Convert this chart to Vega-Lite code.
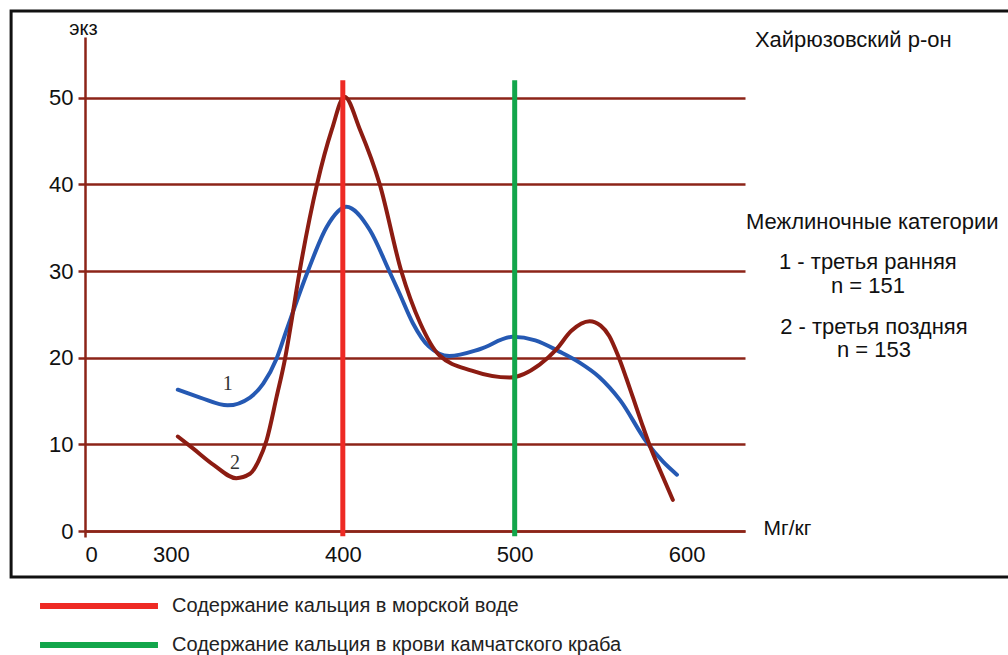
{
  "$schema": "https://vega.github.io/schema/vega-lite/v6.json",
  "width": 660,
  "height": 494,
  "autosize": {"type": "none"},
  "padding": {"left": 85, "top": 37, "right": 263, "bottom": 124},
  "background": "white",
  "config": {"font": "Liberation Sans", "view": {"stroke": null}},
  "datasets": {
    "box": [{"x": 207, "x2": 800, "y": -5.3, "y2": 60.0}],
    "curves": [
      {"s": "1", "x": 304, "y": 16.3},
      {"s": "1", "x": 317, "y": 15.4},
      {"s": "1", "x": 333, "y": 14.5},
      {"s": "1", "x": 346, "y": 15.4},
      {"s": "1", "x": 353.7, "y": 17.0},
      {"s": "1", "x": 361.5, "y": 19.9},
      {"s": "1", "x": 367.3, "y": 23.2},
      {"s": "1", "x": 379.7, "y": 30},
      {"s": "1", "x": 390.7, "y": 35.1},
      {"s": "1", "x": 402, "y": 37.4},
      {"s": "1", "x": 415.8, "y": 34.7},
      {"s": "1", "x": 427, "y": 30},
      {"s": "1", "x": 433, "y": 27.4},
      {"s": "1", "x": 440.7, "y": 24},
      {"s": "1", "x": 450, "y": 21.3},
      {"s": "1", "x": 462, "y": 20.2},
      {"s": "1", "x": 480, "y": 21},
      {"s": "1", "x": 498.8, "y": 22.4},
      {"s": "1", "x": 512, "y": 22.0},
      {"s": "1", "x": 526, "y": 20.7},
      {"s": "1", "x": 538, "y": 19.4},
      {"s": "1", "x": 549, "y": 17.8},
      {"s": "1", "x": 561.3, "y": 15.1},
      {"s": "1", "x": 577, "y": 10.2},
      {"s": "1", "x": 586.3, "y": 8.0},
      {"s": "1", "x": 594.4, "y": 6.5},
      {"s": "2", "x": 304, "y": 10.9},
      {"s": "2", "x": 313, "y": 9.5},
      {"s": "2", "x": 325, "y": 7.6},
      {"s": "2", "x": 338, "y": 6.1},
      {"s": "2", "x": 346, "y": 6.6},
      {"s": "2", "x": 351, "y": 8.1},
      {"s": "2", "x": 355.7, "y": 10.5},
      {"s": "2", "x": 361.5, "y": 15.5},
      {"s": "2", "x": 366.4, "y": 19.9},
      {"s": "2", "x": 369.3, "y": 23.2},
      {"s": "2", "x": 375, "y": 30.1},
      {"s": "2", "x": 385, "y": 40},
      {"s": "2", "x": 393.6, "y": 46.3},
      {"s": "2", "x": 401, "y": 50.1},
      {"s": "2", "x": 410, "y": 46.3},
      {"s": "2", "x": 421.5, "y": 40},
      {"s": "2", "x": 434, "y": 30},
      {"s": "2", "x": 445, "y": 24},
      {"s": "2", "x": 456, "y": 20.3},
      {"s": "2", "x": 475, "y": 18.5},
      {"s": "2", "x": 497, "y": 17.7},
      {"s": "2", "x": 514.5, "y": 19.2},
      {"s": "2", "x": 524, "y": 20.9},
      {"s": "2", "x": 533, "y": 23.1},
      {"s": "2", "x": 543.6, "y": 24.2},
      {"s": "2", "x": 550, "y": 23.7},
      {"s": "2", "x": 555, "y": 22.5},
      {"s": "2", "x": 560, "y": 20.3},
      {"s": "2", "x": 565, "y": 17.6},
      {"s": "2", "x": 569, "y": 15.3},
      {"s": "2", "x": 574, "y": 12.4},
      {"s": "2", "x": 578.5, "y": 9.9},
      {"s": "2", "x": 585, "y": 6.8},
      {"s": "2", "x": 592, "y": 3.6}
    ],
    "lines": [
      {"x": 400, "label": "Содержание кальция в морской воде"},
      {"x": 500, "label": "Содержание кальция в крови камчатского краба"}
    ],
    "notes": [
      {"x": 697, "y": 56.65, "text": "Хайрюзовский р-он"},
      {"x": 708, "y": 35.7, "text": "Межлиночные категории"},
      {"x": 705.5, "y": 31.0, "text": "1 - третья ранняя"},
      {"x": 705.5, "y": 28.3, "text": "n = 151"},
      {"x": 709, "y": 23.5, "text": "2 - третья поздняя"},
      {"x": 709, "y": 20.9, "text": "n = 153"}
    ],
    "curvelabels": [
      {"x": 333.0, "y": 17.0, "text": "1"},
      {"x": 337.3, "y": 7.8, "text": "2"}
    ]
  },
  "layer": [
    {
      "data": {"name": "box"},
      "mark": {"type": "rect", "fillOpacity": 0, "stroke": "#111111", "strokeWidth": 3, "clip": false},
      "encoding": {
        "x": {
          "field": "x", "type": "quantitative",
          "scale": {"domain": [250, 634], "zero": false, "nice": false},
          "axis": {
            "values": [250, 300, 400, 500, 600],
            "labelExpr": "datum.value == 250 ? '0' : datum.label",
            "grid": false,
            "domain": true, "domainColor": "#8c2418", "domainWidth": 2.5,
            "ticks": true, "tickSize": 6, "tickWidth": 2.5,
            "tickColor": {"condition": {"test": "datum.value == 250", "value": "#8c2418"}, "value": "transparent"},
            "labelFontSize": 22, "labelColor": "#111111", "labelPadding": 7,
            "title": "Мг/кг", "titleFontSize": 21, "titleFontWeight": "normal", "titleColor": "#111111",
            "titleAngle": 0, "titleAnchor": null, "titleX": 678, "titleY": -3, "titleAlign": "left", "titleBaseline": "middle"
          }
        },
        "x2": {"field": "x2"},
        "y": {
          "field": "y", "type": "quantitative",
          "scale": {"domain": [0, 57], "zero": false, "nice": false},
          "axis": {
            "values": [0, 10, 20, 30, 40, 50],
            "grid": true, "gridColor": "#8c2418", "gridWidth": 2.5, "gridOpacity": 1,
            "domain": true, "domainColor": "#8c2418", "domainWidth": 2.5,
            "ticks": true, "tickSize": 7, "tickWidth": 2.5, "tickColor": "#8c2418",
            "labelFontSize": 22, "labelColor": "#111111", "labelPadding": 5,
            "title": "экз", "titleFontSize": 20, "titleFontWeight": "normal", "titleColor": "#111111",
            "titleAngle": 0, "titleX": -2, "titleY": -3, "titleAlign": "center", "titleBaseline": "alphabetic"
          }
        },
        "y2": {"field": "y2"}
      }
    },
    {
      "data": {"name": "curves"},
      "mark": {"type": "line", "interpolate": "monotone", "strokeWidth": 4, "strokeCap": "round"},
      "encoding": {
        "x": {"field": "x", "type": "quantitative"},
        "y": {"field": "y", "type": "quantitative"},
        "color": {"field": "s", "type": "nominal", "scale": {"domain": ["1", "2"], "range": ["#2559b3", "#8c1c12"]}, "legend": null}
      }
    },
    {
      "data": {"name": "lines"},
      "mark": {"type": "rule", "strokeWidth": 5, "clip": false},
      "encoding": {
        "x": {"field": "x", "type": "quantitative"},
        "y": {"datum": 52.0},
        "y2": {"datum": -0.6},
        "stroke": {
          "field": "label", "type": "nominal",
          "scale": {"domain": ["Содержание кальция в морской воде", "Содержание кальция в крови камчатского краба"], "range": ["#ee2a24", "#12a64b"]},
          "legend": {
            "title": null, "orient": "none", "legendX": 4, "legendY": 559, "padding": 0,
            "symbolType": "M-9.83,0H9.83", "symbolSize": 144, "symbolStrokeWidth": 6,
            "labelFontSize": 20, "labelColor": "#222222", "labelOffset": 63, "rowPadding": 15,
            "labelLimit": 700
          }
        }
      }
    },
    {
      "data": {"name": "notes"},
      "mark": {"type": "text", "fontSize": 22, "color": "#111111", "align": "center", "baseline": "middle", "clip": false},
      "encoding": {
        "x": {"field": "x", "type": "quantitative"},
        "y": {"field": "y", "type": "quantitative"},
        "text": {"field": "text"}
      }
    },
    {
      "data": {"name": "curvelabels"},
      "mark": {"type": "text", "fontSize": 20, "font": "Liberation Serif", "color": "#333333", "align": "center", "baseline": "middle"},
      "encoding": {
        "x": {"field": "x", "type": "quantitative"},
        "y": {"field": "y", "type": "quantitative"},
        "text": {"field": "text"}
      }
    }
  ]
}
